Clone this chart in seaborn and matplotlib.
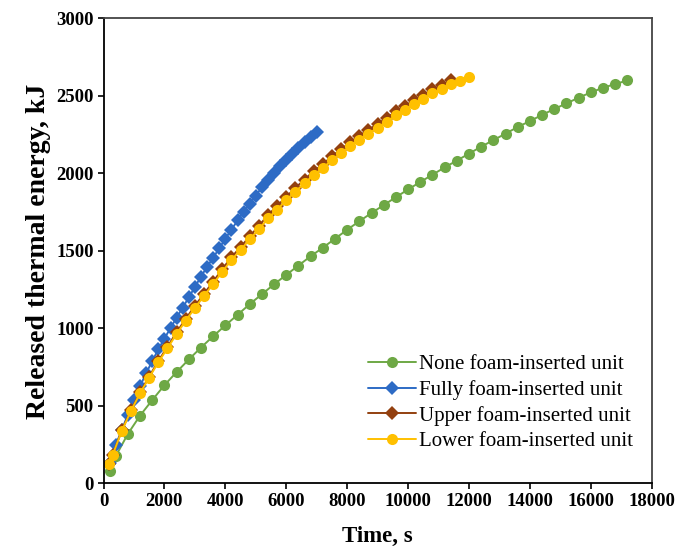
import matplotlib
matplotlib.use("Agg")
import matplotlib.pyplot as plt
import seaborn as sns
import pandas as pd

# ---- data ----
labels = ["None foam-inserted unit", "Fully foam-inserted unit",
          "Upper foam-inserted unit", "Lower foam-inserted unit"]

t_none = [200, 400, 800, 1200, 1600, 2000, 2400, 2800, 3200, 3600, 4000, 4400,
          4800, 5200, 5600, 6000, 6400, 6800, 7200, 7600, 8000, 8400, 8800, 9200,
          9600, 10000, 10400, 10800, 11200, 11600, 12000, 12400, 12800, 13200,
          13600, 14000, 14400, 14800, 15200, 15600, 16000, 16400, 16800, 17200]
e_none = [82, 175, 320, 438, 538, 634, 719, 800, 877, 950, 1020, 1088, 1157,
          1221, 1285, 1346, 1406, 1466, 1521, 1579, 1637, 1692, 1745, 1796,
          1847, 1897, 1945, 1992, 2039, 2083, 2128, 2173, 2215, 2257, 2300,
          2338, 2378, 2416, 2452, 2489, 2523, 2553, 2577, 2600]

t_fully = [200, 400, 600, 800, 1000, 1200, 1400, 1600, 1800, 2000, 2200, 2400,
           2600, 2800, 3000, 3200, 3400, 3600, 3800, 4000, 4200, 4400, 4600,
           4800, 5000, 5200, 5400, 5600, 5800, 6000, 6200, 6400, 6600, 6800, 7000]
e_fully = [135, 248, 345, 445, 539, 628, 711, 790, 865, 935, 1003, 1070, 1135,
           1200, 1268, 1334, 1398, 1457, 1517, 1580, 1637, 1697, 1752, 1805,
           1858, 1910, 1958, 2005, 2048, 2090, 2128, 2165, 2200, 2233, 2265]

t_upper = [180, 300, 600, 900, 1200, 1500, 1800, 2100, 2400, 2700, 3000, 3300,
           3600, 3900, 4200, 4500, 4800, 5100, 5400, 5700, 6000, 6300, 6600,
           6900, 7200, 7500, 7800, 8100, 8400, 8700, 9000, 9300, 9600, 9900,
           10200, 10500, 10800, 11100, 11400]
e_upper = [124, 186, 342, 472, 588, 690, 790, 882, 976, 1062, 1146, 1224, 1302,
           1383, 1460, 1525, 1595, 1661, 1732, 1790, 1850, 1907, 1961, 2015,
           2059, 2112, 2155, 2201, 2243, 2282, 2320, 2359, 2400, 2435, 2473,
           2506, 2542, 2568, 2600]

t_lower = [180, 300, 600, 900, 1200, 1500, 1800, 2100, 2400, 2700, 3000, 3300,
           3600, 3900, 4200, 4500, 4800, 5100, 5400, 5700, 6000, 6300, 6600,
           6900, 7200, 7500, 7800, 8100, 8400, 8700, 9000, 9300, 9600, 9900,
           10200, 10500, 10800, 11100, 11400, 11700, 12000]
e_lower = [124, 184, 339, 468, 582, 683, 782, 872, 965, 1050, 1133, 1210, 1287,
           1366, 1442, 1506, 1575, 1640, 1710, 1767, 1827, 1883, 1937, 1990,
           2034, 2087, 2130, 2176, 2218, 2257, 2295, 2334, 2375, 2410, 2448,
           2481, 2517, 2543, 2575, 2599, 2625]

x_ticks = [0, 2000, 4000, 6000, 8000, 10000, 12000, 14000, 16000, 18000]
y_ticks = [0, 500, 1000, 1500, 2000, 2500, 3000]

# ---- style ----
sns.set_style("ticks")
plt.rcParams["font.family"] = ["Liberation Serif", "DejaVu Serif"]
plt.rcParams["text.color"] = "black"
plt.rcParams["axes.labelcolor"] = "black"
plt.rcParams["xtick.color"] = "black"
plt.rcParams["ytick.color"] = "black"

fig = plt.figure(figsize=(6.9, 5.47), dpi=100)
ax = fig.add_axes([0.150, 0.1161, 0.7945, 0.8501])

series = [
    (t_none, e_none, labels[0], "#6EA845", "o", 8),
    (t_fully, e_fully, labels[1], "#2D6BC5", "D", 7.5),
    (t_upper, e_upper, labels[2], "#93400F", "D", 7.2),
    (t_lower, e_lower, labels[3], "#FFC000", "o", 8),
]
for t, e, lab, col, mk, ms in series:
    df = pd.DataFrame({"t": t, "e": e})
    sns.lineplot(data=df, x="t", y="e", ax=ax, color=col, marker=mk,
                 markersize=ms, markeredgewidth=0, linewidth=1.4,
                 label=lab, sort=False)

ax.set_xlim(0, 18000)
ax.set_ylim(0, 3000)
ax.set_xticks(x_ticks)
ax.set_yticks(y_ticks)
ax.set_xticklabels([str(v) for v in x_ticks], fontweight="bold", fontsize=13.5)
ax.set_yticklabels([str(v) for v in y_ticks], fontweight="bold", fontsize=13.5)
ax.tick_params(direction="out", length=4, width=1.2, color="black",
               labelcolor="black", pad=3)
for s in ax.spines.values():
    s.set_visible(True)
    s.set_color("black")
    s.set_linewidth(1.3)
ax.spines["top"].set_color("#444444")
ax.spines["right"].set_color("#444444")

ax.set_xlabel("Time, s", fontweight="bold", fontsize=16.5, labelpad=11,
              color="black")
ax.set_ylabel("Released thermal energy, kJ", fontweight="bold", fontsize=20,
              labelpad=4, color="black")

leg = ax.legend(loc="upper left", bbox_to_anchor=(0.468, 0.295), frameon=False,
                fontsize=15, handlelength=2.3, handletextpad=0.15,
                labelspacing=0.28, borderaxespad=0, labelcolor="black")

fig.savefig("out.png", dpi=100)
